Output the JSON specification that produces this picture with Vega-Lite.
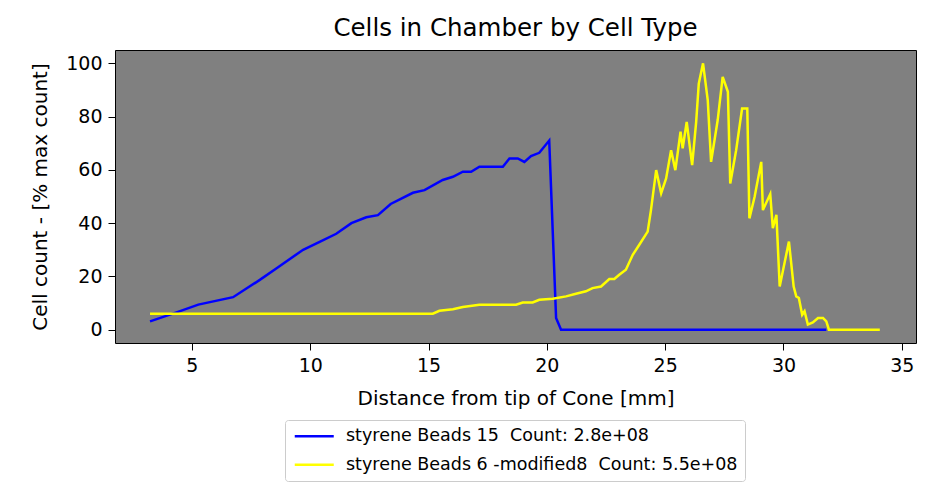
{
  "$schema": "https://vega.github.io/schema/vega-lite/v6.json",
  "autosize": {"type": "none"},
  "width": 801,
  "height": 293,
  "padding": {"left": 115, "top": 50, "right": 12, "bottom": 140},
  "background": "white",
  "title": {
    "text": "Cells in Chamber by Cell Type",
    "font": "DejaVu Sans",
    "fontSize": 24.5,
    "fontWeight": "normal",
    "color": "black",
    "anchor": "middle",
    "offset": 9
  },
  "config": {
    "view": {"fill": "#808080", "stroke": "black", "strokeWidth": 1},
    "font": "DejaVu Sans",
    "axis": {
      "grid": false,
      "domain": false,
      "tickColor": "black",
      "tickSize": 7,
      "labelColor": "black",
      "labelFont": "DejaVu Sans",
      "labelFontSize": 19,
      "labelPadding": 6,
      "titleColor": "black",
      "titleFont": "DejaVu Sans",
      "titleFontSize": 20,
      "titleFontWeight": "normal"
    }
  },
  "data": {
    "values": [
      {"series": "styrene Beads 15\u00a0 Count: 2.8e+08", "x": 3.23, "y": 3.1},
      {"series": "styrene Beads 15\u00a0 Count: 2.8e+08", "x": 4.35, "y": 6.5},
      {"series": "styrene Beads 15\u00a0 Count: 2.8e+08", "x": 5.27, "y": 9.4},
      {"series": "styrene Beads 15\u00a0 Count: 2.8e+08", "x": 6.74, "y": 12.2},
      {"series": "styrene Beads 15\u00a0 Count: 2.8e+08", "x": 7.87, "y": 18.7},
      {"series": "styrene Beads 15\u00a0 Count: 2.8e+08", "x": 8.58, "y": 23.1},
      {"series": "styrene Beads 15\u00a0 Count: 2.8e+08", "x": 9.7, "y": 30.0},
      {"series": "styrene Beads 15\u00a0 Count: 2.8e+08", "x": 10.42, "y": 33.1},
      {"series": "styrene Beads 15\u00a0 Count: 2.8e+08", "x": 11.1, "y": 36.0},
      {"series": "styrene Beads 15\u00a0 Count: 2.8e+08", "x": 11.74, "y": 40.0},
      {"series": "styrene Beads 15\u00a0 Count: 2.8e+08", "x": 12.37, "y": 42.2},
      {"series": "styrene Beads 15\u00a0 Count: 2.8e+08", "x": 12.86, "y": 43.0},
      {"series": "styrene Beads 15\u00a0 Count: 2.8e+08", "x": 13.4, "y": 47.2},
      {"series": "styrene Beads 15\u00a0 Count: 2.8e+08", "x": 14.34, "y": 51.4},
      {"series": "styrene Beads 15\u00a0 Count: 2.8e+08", "x": 14.83, "y": 52.4},
      {"series": "styrene Beads 15\u00a0 Count: 2.8e+08", "x": 15.6, "y": 56.2},
      {"series": "styrene Beads 15\u00a0 Count: 2.8e+08", "x": 16.03, "y": 57.4},
      {"series": "styrene Beads 15\u00a0 Count: 2.8e+08", "x": 16.45, "y": 59.3},
      {"series": "styrene Beads 15\u00a0 Count: 2.8e+08", "x": 16.8, "y": 59.3},
      {"series": "styrene Beads 15\u00a0 Count: 2.8e+08", "x": 17.15, "y": 61.2},
      {"series": "styrene Beads 15\u00a0 Count: 2.8e+08", "x": 18.14, "y": 61.2},
      {"series": "styrene Beads 15\u00a0 Count: 2.8e+08", "x": 18.42, "y": 64.3},
      {"series": "styrene Beads 15\u00a0 Count: 2.8e+08", "x": 18.77, "y": 64.3},
      {"series": "styrene Beads 15\u00a0 Count: 2.8e+08", "x": 19.05, "y": 63.0},
      {"series": "styrene Beads 15\u00a0 Count: 2.8e+08", "x": 19.33, "y": 65.2},
      {"series": "styrene Beads 15\u00a0 Count: 2.8e+08", "x": 19.68, "y": 66.4},
      {"series": "styrene Beads 15\u00a0 Count: 2.8e+08", "x": 20.1, "y": 71.0},
      {"series": "styrene Beads 15\u00a0 Count: 2.8e+08", "x": 20.39, "y": 4.4},
      {"series": "styrene Beads 15\u00a0 Count: 2.8e+08", "x": 20.6, "y": 0},
      {"series": "styrene Beads 15\u00a0 Count: 2.8e+08", "x": 31.81, "y": 0},
      {"series": "styrene Beads 6 -modified8\u00a0 Count: 5.5e+08", "x": 3.23, "y": 6.0},
      {"series": "styrene Beads 6 -modified8\u00a0 Count: 5.5e+08", "x": 15.18, "y": 6.0},
      {"series": "styrene Beads 6 -modified8\u00a0 Count: 5.5e+08", "x": 15.46, "y": 7.1},
      {"series": "styrene Beads 6 -modified8\u00a0 Count: 5.5e+08", "x": 16.03, "y": 7.7},
      {"series": "styrene Beads 6 -modified8\u00a0 Count: 5.5e+08", "x": 16.45, "y": 8.5},
      {"series": "styrene Beads 6 -modified8\u00a0 Count: 5.5e+08", "x": 17.15, "y": 9.4},
      {"series": "styrene Beads 6 -modified8\u00a0 Count: 5.5e+08", "x": 18.7, "y": 9.4},
      {"series": "styrene Beads 6 -modified8\u00a0 Count: 5.5e+08", "x": 18.98, "y": 10.2},
      {"series": "styrene Beads 6 -modified8\u00a0 Count: 5.5e+08", "x": 19.4, "y": 10.2},
      {"series": "styrene Beads 6 -modified8\u00a0 Count: 5.5e+08", "x": 19.68, "y": 11.2},
      {"series": "styrene Beads 6 -modified8\u00a0 Count: 5.5e+08", "x": 20.25, "y": 11.6},
      {"series": "styrene Beads 6 -modified8\u00a0 Count: 5.5e+08", "x": 20.81, "y": 12.5},
      {"series": "styrene Beads 6 -modified8\u00a0 Count: 5.5e+08", "x": 21.23, "y": 13.5},
      {"series": "styrene Beads 6 -modified8\u00a0 Count: 5.5e+08", "x": 21.65, "y": 14.4},
      {"series": "styrene Beads 6 -modified8\u00a0 Count: 5.5e+08", "x": 21.93, "y": 15.6},
      {"series": "styrene Beads 6 -modified8\u00a0 Count: 5.5e+08", "x": 22.29, "y": 16.2},
      {"series": "styrene Beads 6 -modified8\u00a0 Count: 5.5e+08", "x": 22.64, "y": 19.0},
      {"series": "styrene Beads 6 -modified8\u00a0 Count: 5.5e+08", "x": 22.85, "y": 19.0},
      {"series": "styrene Beads 6 -modified8\u00a0 Count: 5.5e+08", "x": 23.06, "y": 20.6},
      {"series": "styrene Beads 6 -modified8\u00a0 Count: 5.5e+08", "x": 23.34, "y": 22.5},
      {"series": "styrene Beads 6 -modified8\u00a0 Count: 5.5e+08", "x": 23.63, "y": 28.1},
      {"series": "styrene Beads 6 -modified8\u00a0 Count: 5.5e+08", "x": 23.9, "y": 31.8},
      {"series": "styrene Beads 6 -modified8\u00a0 Count: 5.5e+08", "x": 24.26, "y": 36.8},
      {"series": "styrene Beads 6 -modified8\u00a0 Count: 5.5e+08", "x": 24.4, "y": 44.9},
      {"series": "styrene Beads 6 -modified8\u00a0 Count: 5.5e+08", "x": 24.62, "y": 59.9},
      {"series": "styrene Beads 6 -modified8\u00a0 Count: 5.5e+08", "x": 24.83, "y": 51.2},
      {"series": "styrene Beads 6 -modified8\u00a0 Count: 5.5e+08", "x": 25.04, "y": 56.8},
      {"series": "styrene Beads 6 -modified8\u00a0 Count: 5.5e+08", "x": 25.25, "y": 67.4},
      {"series": "styrene Beads 6 -modified8\u00a0 Count: 5.5e+08", "x": 25.43, "y": 59.9},
      {"series": "styrene Beads 6 -modified8\u00a0 Count: 5.5e+08", "x": 25.65, "y": 74.3},
      {"series": "styrene Beads 6 -modified8\u00a0 Count: 5.5e+08", "x": 25.74, "y": 68.1},
      {"series": "styrene Beads 6 -modified8\u00a0 Count: 5.5e+08", "x": 25.91, "y": 78.0},
      {"series": "styrene Beads 6 -modified8\u00a0 Count: 5.5e+08", "x": 26.14, "y": 61.8},
      {"series": "styrene Beads 6 -modified8\u00a0 Count: 5.5e+08", "x": 26.31, "y": 78.0},
      {"series": "styrene Beads 6 -modified8\u00a0 Count: 5.5e+08", "x": 26.42, "y": 92.4},
      {"series": "styrene Beads 6 -modified8\u00a0 Count: 5.5e+08", "x": 26.6, "y": 100.0},
      {"series": "styrene Beads 6 -modified8\u00a0 Count: 5.5e+08", "x": 26.8, "y": 86.1},
      {"series": "styrene Beads 6 -modified8\u00a0 Count: 5.5e+08", "x": 26.94, "y": 63.0},
      {"series": "styrene Beads 6 -modified8\u00a0 Count: 5.5e+08", "x": 27.22, "y": 78.7},
      {"series": "styrene Beads 6 -modified8\u00a0 Count: 5.5e+08", "x": 27.43, "y": 94.9},
      {"series": "styrene Beads 6 -modified8\u00a0 Count: 5.5e+08", "x": 27.65, "y": 89.3},
      {"series": "styrene Beads 6 -modified8\u00a0 Count: 5.5e+08", "x": 27.75, "y": 54.9},
      {"series": "styrene Beads 6 -modified8\u00a0 Count: 5.5e+08", "x": 28.0, "y": 67.4},
      {"series": "styrene Beads 6 -modified8\u00a0 Count: 5.5e+08", "x": 28.25, "y": 83.0},
      {"series": "styrene Beads 6 -modified8\u00a0 Count: 5.5e+08", "x": 28.47, "y": 83.0},
      {"series": "styrene Beads 6 -modified8\u00a0 Count: 5.5e+08", "x": 28.56, "y": 41.8},
      {"series": "styrene Beads 6 -modified8\u00a0 Count: 5.5e+08", "x": 28.78, "y": 49.9},
      {"series": "styrene Beads 6 -modified8\u00a0 Count: 5.5e+08", "x": 29.06, "y": 63.0},
      {"series": "styrene Beads 6 -modified8\u00a0 Count: 5.5e+08", "x": 29.13, "y": 44.9},
      {"series": "styrene Beads 6 -modified8\u00a0 Count: 5.5e+08", "x": 29.44, "y": 50.9},
      {"series": "styrene Beads 6 -modified8\u00a0 Count: 5.5e+08", "x": 29.55, "y": 38.1},
      {"series": "styrene Beads 6 -modified8\u00a0 Count: 5.5e+08", "x": 29.7, "y": 43.1},
      {"series": "styrene Beads 6 -modified8\u00a0 Count: 5.5e+08", "x": 29.84, "y": 16.2},
      {"series": "styrene Beads 6 -modified8\u00a0 Count: 5.5e+08", "x": 30.23, "y": 33.1},
      {"series": "styrene Beads 6 -modified8\u00a0 Count: 5.5e+08", "x": 30.43, "y": 16.2},
      {"series": "styrene Beads 6 -modified8\u00a0 Count: 5.5e+08", "x": 30.54, "y": 12.5},
      {"series": "styrene Beads 6 -modified8\u00a0 Count: 5.5e+08", "x": 30.65, "y": 11.9},
      {"series": "styrene Beads 6 -modified8\u00a0 Count: 5.5e+08", "x": 30.79, "y": 5.6},
      {"series": "styrene Beads 6 -modified8\u00a0 Count: 5.5e+08", "x": 30.89, "y": 6.9},
      {"series": "styrene Beads 6 -modified8\u00a0 Count: 5.5e+08", "x": 31.03, "y": 1.9},
      {"series": "styrene Beads 6 -modified8\u00a0 Count: 5.5e+08", "x": 31.24, "y": 2.7},
      {"series": "styrene Beads 6 -modified8\u00a0 Count: 5.5e+08", "x": 31.46, "y": 4.4},
      {"series": "styrene Beads 6 -modified8\u00a0 Count: 5.5e+08", "x": 31.67, "y": 4.4},
      {"series": "styrene Beads 6 -modified8\u00a0 Count: 5.5e+08", "x": 31.81, "y": 3.1},
      {"series": "styrene Beads 6 -modified8\u00a0 Count: 5.5e+08", "x": 31.92, "y": 0},
      {"series": "styrene Beads 6 -modified8\u00a0 Count: 5.5e+08", "x": 34.07, "y": 0}
    ]
  },
  "mark": {"type": "line", "strokeWidth": 2.5, "clip": true},
  "encoding": {
    "x": {
      "field": "x",
      "type": "quantitative",
      "scale": {"domain": [1.75, 35.6], "nice": false, "zero": false},
      "axis": {
        "title": "Distance from tip of Cone [mm]",
        "values": [5, 10, 15, 20, 25, 30, 35],
        "titleX": 400.5,
        "titleY": 55,
        "titleBaseline": "middle"
      }
    },
    "y": {
      "field": "y",
      "type": "quantitative",
      "scale": {"domain": [-5, 105], "nice": false, "zero": false},
      "axis": {
        "title": "Cell count - [% max count]",
        "values": [0, 20, 40, 60, 80, 100],
        "titleX": -75,
        "titleY": 146.5,
        "titleAngle": -90,
        "titleBaseline": "middle",
        "titleAlign": "center"
      }
    },
    "color": {
      "field": "series",
      "type": "nominal",
      "scale": {
        "domain": [
          "styrene Beads 15\u00a0 Count: 2.8e+08",
          "styrene Beads 6 -modified8\u00a0 Count: 5.5e+08"
        ],
        "range": ["#0000ff", "#ffff00"]
      },
      "legend": {
        "title": null,
        "orient": "none",
        "legendX": 170,
        "legendY": 370,
        "direction": "vertical",
        "fillColor": "white",
        "strokeColor": "#cccccc",
        "cornerRadius": 3,
        "padding": 7.5,
        "symbolType": "M-1,0H5",
        "symbolSize": 169,
        "symbolStrokeWidth": 2.5,
        "labelFont": "DejaVu Sans",
        "labelFontSize": 17.5,
        "labelColor": "black",
        "labelOffset": 36,
        "labelLimit": 700,
        "rowPadding": 9.5
      }
    }
  }
}
